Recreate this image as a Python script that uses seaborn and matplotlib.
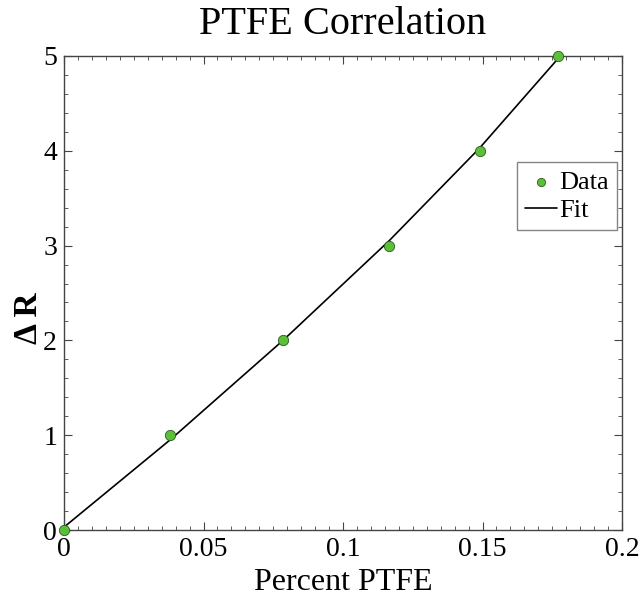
import matplotlib
matplotlib.use("Agg")
import matplotlib.pyplot as plt
import seaborn as sns
import pandas as pd
from matplotlib.ticker import MultipleLocator

sns.set_theme(style="white")
plt.rcParams['font.family'] = ['Liberation Serif', 'DejaVu Serif']
plt.rcParams['text.color'] = 'black'
plt.rcParams['axes.labelcolor'] = 'black'

# Data
percent_ptfe = [0.0, 0.038, 0.0785, 0.1165, 0.149, 0.177]
delta_r = [0, 1, 2, 3, 4, 5]
fit_x = [0.0, 0.038, 0.0785, 0.1165, 0.149, 0.177]
fit_y = [0.03, 0.95, 2.0, 3.05, 4.03, 4.97]

df = pd.DataFrame({"x": percent_ptfe, "y": delta_r})
df_fit = pd.DataFrame({"x": fit_x, "y": fit_y})

fig = plt.figure(figsize=(6.41, 5.98), dpi=100)
ax = fig.add_axes([64/641, 1 - 530/598, (622-64)/641, (530-56)/598])

sns.lineplot(data=df_fit, x="x", y="y", ax=ax, color="black", linewidth=1.2,
             label="Fit", zorder=2, sort=False)
sns.scatterplot(data=df, x="x", y="y", ax=ax, color="#5cbf3a", edgecolor="#2a5a1a",
                linewidth=0.6, s=55, label="Data", zorder=3, clip_on=False)

ax.set_xlim(0, 0.2)
ax.set_ylim(0, 5)
ax.xaxis.set_minor_locator(MultipleLocator(0.005))
ax.yaxis.set_minor_locator(MultipleLocator(0.2))
ax.set_xticks([0, 0.05, 0.1, 0.15, 0.2])
ax.set_xticklabels(["0", "0.05", "0.1", "0.15", "0.2"])
ax.set_yticks([0, 1, 2, 3, 4, 5])
ax.set_yticklabels(["0", "1", "2", "3", "4", "5"])

ax.tick_params(which="both", direction="in", top=True, right=True,
               bottom=True, left=True, colors="#444444", labelcolor="black")
ax.tick_params(which="major", length=6, width=0.8, labelsize=20)
ax.tick_params(axis="x", which="major", pad=5)
ax.tick_params(axis="y", which="major", pad=5)
ax.tick_params(which="minor", length=3, width=0.6)
for s in ax.spines.values():
    s.set_color("#444444")
    s.set_linewidth(1.0)

ax.set_xlabel("Percent PTFE", fontsize=23, labelpad=4, color="black")
ax.set_ylabel("Δ R", fontsize=24, fontweight="bold", color="black")
ax.yaxis.set_label_coords(-0.036, 0.447)
ax.set_title("PTFE Correlation", fontsize=29, pad=16, color="black")

handles, labels = ax.get_legend_handles_labels()
order = [labels.index("Data"), labels.index("Fit")]
leg = ax.legend([handles[i] for i in order], [labels[i] for i in order],
                loc="upper left", bbox_to_anchor=(0.812, 0.776), fontsize=19,
                frameon=True, fancybox=False, edgecolor="#666666",
                handlelength=1.2, handletextpad=0.1, borderpad=0.3,
                labelspacing=0.2, markerscale=0.8, borderaxespad=0)
leg.get_frame().set_linewidth(1.0)
for t in leg.get_texts():
    t.set_color("black")

fig.savefig("out.png", dpi=100)
